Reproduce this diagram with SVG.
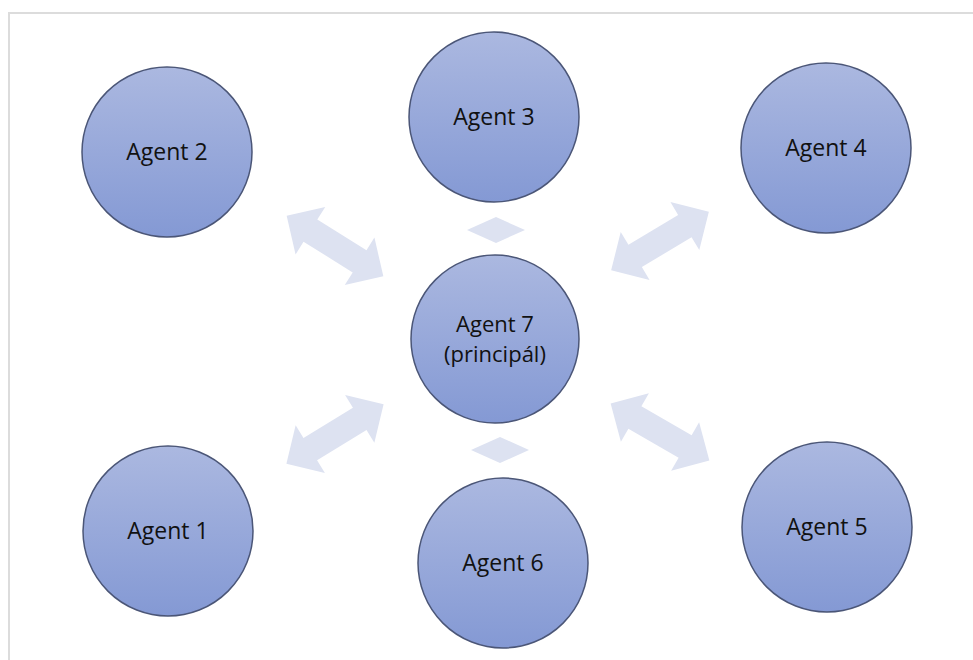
<svg xmlns="http://www.w3.org/2000/svg" width="973" height="660" viewBox="0 0 973 660">
  <defs>
    <linearGradient id="nodeFill" x1="0" y1="0" x2="0" y2="1">
      <stop offset="0" stop-color="#abb8e0"/>
      <stop offset="1" stop-color="#8499d4"/>
    </linearGradient>
    <polygon id="dblArrow" points="-57,0 -29,-28 -29,-13 29,-13 29,-28 57,0 29,28 29,13 -29,13 -29,28"/>
  </defs>
  <style>
    .node circle { fill: url(#nodeFill); stroke: #4b5677; stroke-width: 1.5; }
    .node text { font-family: "Open Sans", "Noto Sans", sans-serif; font-size: 23px; fill: #111111; text-anchor: middle; }
    .node text.small { font-size: 22px; }
    .conn { fill: #dde2f1; }
    .frame { stroke: #dcdcdc; stroke-width: 2; fill: none; }
  </style>
  <rect width="973" height="660" fill="#ffffff"/>
  <path class="frame" d="M9,660 V13 H973"/>

  <g id="connectors">
    <use href="#dblArrow" class="conn" transform="translate(335,246) rotate(32)"/>
    <use href="#dblArrow" class="conn" transform="translate(660,241) rotate(-31)"/>
    <use href="#dblArrow" class="conn" transform="translate(335,434) rotate(-31.5)"/>
    <use href="#dblArrow" class="conn" transform="translate(660,432) rotate(30)"/>
    <polygon class="conn" points="467,230 496,217 525,230 496,243"/>
    <polygon class="conn" points="471,450 500,437 529,450 500,463"/>
  </g>

  <g id="agent2" class="node">
    <circle cx="167" cy="152" r="85"/>
    <text x="167" y="160">Agent 2</text>
  </g>
  <g id="agent3" class="node">
    <circle cx="494" cy="117" r="85"/>
    <text x="494" y="125">Agent 3</text>
  </g>
  <g id="agent4" class="node">
    <circle cx="826" cy="148" r="85"/>
    <text x="826" y="156">Agent 4</text>
  </g>
  <g id="agent7" class="node">
    <circle cx="495" cy="339" r="84"/>
    <text class="small" x="495" y="332">Agent 7</text>
    <text class="small" x="495" y="362">(principál)</text>
  </g>
  <g id="agent1" class="node">
    <circle cx="168" cy="531" r="85"/>
    <text x="168" y="539">Agent 1</text>
  </g>
  <g id="agent6" class="node">
    <circle cx="503" cy="563" r="85"/>
    <text x="503" y="571">Agent 6</text>
  </g>
  <g id="agent5" class="node">
    <circle cx="827" cy="527" r="85"/>
    <text x="827" y="535">Agent 5</text>
  </g>
</svg>
